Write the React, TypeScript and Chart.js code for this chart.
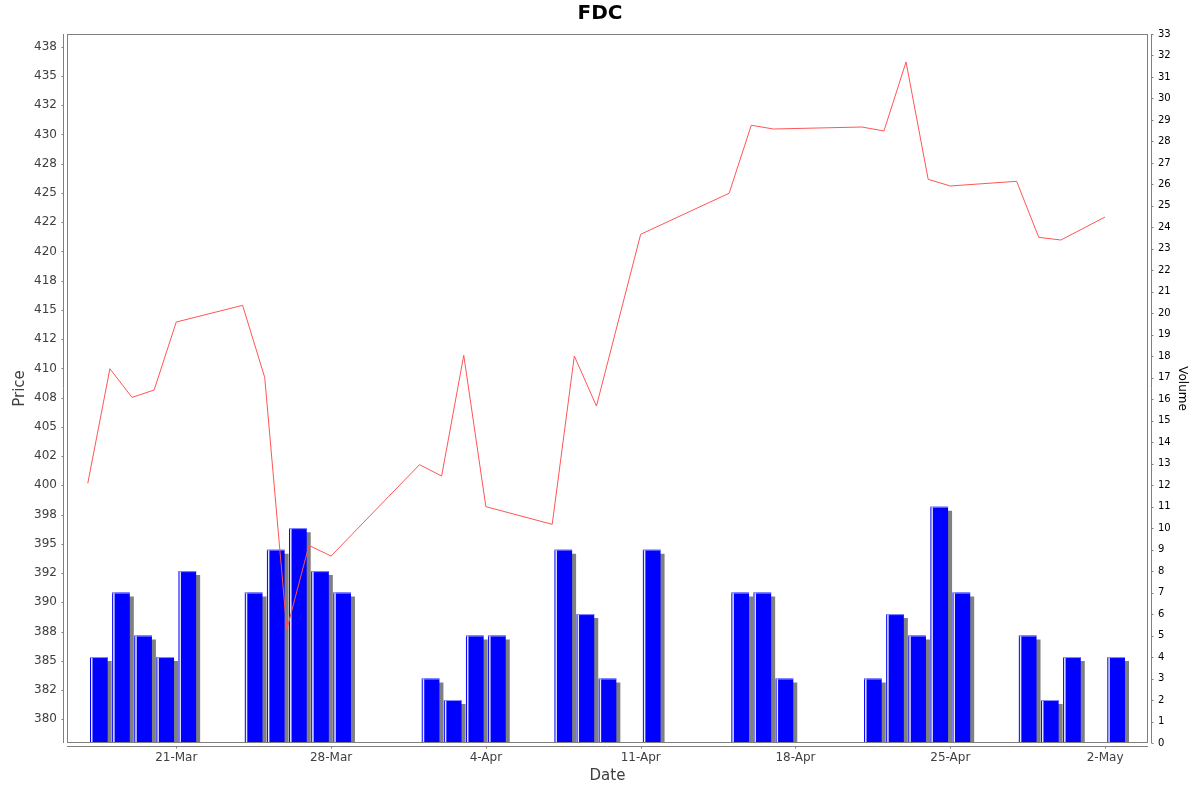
import React, { useEffect, useRef } from 'react';
import { Chart, registerables } from 'chart.js';

Chart.register(...registerables);

// ---- Data ----
const tradeDates = [
  '2014-03-17', '2014-03-18', '2014-03-19', '2014-03-20', '2014-03-21',
  '2014-03-24', '2014-03-25', '2014-03-26', '2014-03-27', '2014-03-28',
  '2014-04-01', '2014-04-02', '2014-04-03', '2014-04-04',
  '2014-04-07', '2014-04-08', '2014-04-09', '2014-04-11',
  '2014-04-15', '2014-04-16', '2014-04-17',
  '2014-04-21', '2014-04-22', '2014-04-23', '2014-04-24', '2014-04-25',
  '2014-04-28', '2014-04-29', '2014-04-30', '2014-05-02',
];

const closePrices = [
  400.17, 409.97, 407.52, 408.15, 413.96,
  415.39, 409.23, 387.69, 394.87, 393.96,
  401.77, 400.8, 411.12, 398.18,
  396.67, 411.06, 406.78, 421.46,
  424.97, 430.78, 430.46,
  430.63, 430.29, 436.19, 426.16, 425.59,
  425.99, 421.2, 420.97, 422.94,
];

const volumes = [
  4, 7, 5, 4, 8,
  7, 9, 10, 8, 7,
  3, 2, 5, 5,
  9, 6, 3, 9,
  7, 7, 3,
  3, 6, 5, 11, 7,
  5, 2, 4, 4,
];

const priceTicks = [
  380, 382.5, 385, 387.5, 390, 392.5, 395, 397.5, 400, 402.5, 405, 407.5,
  410, 412.5, 415, 417.5, 420, 422.5, 425, 427.5, 430, 432.5, 435, 437.5,
];
const priceTickLabels = [
  '380', '382', '385', '388', '390', '392', '395', '398', '400', '402', '405', '408',
  '410', '412', '415', '418', '420', '422', '425', '428', '430', '432', '435', '438',
];

const volumeTicks = [
  0, 1, 2, 3, 4, 5, 6, 7, 8, 9, 10, 11, 12, 13, 14, 15, 16,
  17, 18, 19, 20, 21, 22, 23, 24, 25, 26, 27, 28, 29, 30, 31, 32, 33,
];

const dateTicks = ['2014-03-21', '2014-03-28', '2014-04-04', '2014-04-11', '2014-04-18', '2014-04-25', '2014-05-02'];
const dateTickLabels = ['21-Mar', '28-Mar', '4-Apr', '11-Apr', '18-Apr', '25-Apr', '2-May'];

// ---- helpers ----
const DAY = 86400000;
const toUTC = (s: string) => {
  const [y, m, d] = s.split('-').map(Number);
  return Date.UTC(y, m - 1, d);
};
const origin = toUTC(tradeDates[0]);
const dayOf = (s: string) => (toUTC(s) - origin) / DAY;

const FONT = "'DejaVu Sans', sans-serif";
const AXIS_GRAY = '#808080';
const TEXT_GRAY = '#404040';

const decorPlugin = {
  id: 'decor',
  beforeDatasetDraw(chart: any, args: any) {
    if (args.meta.type !== 'bar') return;
    const ctx = chart.ctx;
    const dpr = chart.currentDevicePixelRatio || 1;
    ctx.save();
    ctx.shadowColor = '#808080';
    ctx.shadowBlur = 0;
    ctx.shadowOffsetX = 4 * dpr;
    ctx.shadowOffsetY = 4 * dpr;
  },
  afterDatasetDraw(chart: any, args: any) {
    if (args.meta.type !== 'bar') return;
    const ctx = chart.ctx;
    ctx.restore();
    ctx.save();
    for (const el of args.meta.data) {
      const p = el.getProps(['x', 'y', 'base', 'width'], true);
      const left = p.x - p.width / 2;
      const h = p.base - p.y;
      ctx.fillStyle = 'rgba(255,255,255,0.9)';
      ctx.fillRect(left + 1, p.y, 1.5, h);
      ctx.fillStyle = '#8c8cff';
      ctx.fillRect(left, p.y, p.width, 1);
    }
    ctx.restore();
  },
  afterDraw(chart: any) {
    const ctx = chart.ctx;
    const { left, right, top, bottom } = chart.chartArea;
    ctx.save();
    ctx.strokeStyle = AXIS_GRAY;
    ctx.lineWidth = 1;
    // plot outline
    ctx.strokeRect(left + 0.5, top + 0.5, right - left - 1, bottom - top - 1);
    ctx.beginPath();
    // left axis
    const lx = left - 3.5;
    ctx.moveTo(lx, top);
    ctx.lineTo(lx, bottom);
    const yp = chart.scales.yPrice;
    yp.ticks.forEach((_t: any, i: number) => {
      const y = Math.round(yp.getPixelForTick(i)) + 0.5;
      ctx.moveTo(lx, y);
      ctx.lineTo(lx - 2, y);
    });
    // right axis
    const rx = right + 3.5;
    ctx.moveTo(rx, top);
    ctx.lineTo(rx, bottom);
    const yv = chart.scales.yVol;
    yv.ticks.forEach((_t: any, i: number) => {
      const y = Math.round(yv.getPixelForTick(i)) + 0.5;
      ctx.moveTo(rx, y);
      ctx.lineTo(rx + 2, y);
    });
    // bottom axis
    const by = bottom + 3.5;
    ctx.moveTo(left, by);
    ctx.lineTo(right, by);
    const xs = chart.scales.x;
    xs.ticks.forEach((_t: any, i: number) => {
      const x = Math.round(xs.getPixelForTick(i)) + 0.5;
      ctx.moveTo(x, by);
      ctx.lineTo(x, by + 2);
    });
    ctx.stroke();
    ctx.restore();
  },
};

export default function App() {
  const canvasRef = useRef<HTMLCanvasElement | null>(null);

  useEffect(() => {
    if (!canvasRef.current) return;
    const dateTickDays = dateTicks.map(dayOf);
    const barData = tradeDates.map((d, i) => ({ x: dayOf(d) + 0.5, y: volumes[i] }));
    const lineData = tradeDates.map((d, i) => ({ x: dayOf(d), y: closePrices[i] }));

    const chart = new Chart(canvasRef.current, {
      type: 'bar',
      data: {
        datasets: [
          {
            type: 'line',
            label: 'Price',
            data: lineData,
            xAxisID: 'x',
            yAxisID: 'yPrice',
            borderColor: '#ff5555',
            borderWidth: 1,
            pointRadius: 0,
            fill: false,
            tension: 0,
            order: 0,
          } as any,
          {
            type: 'bar',
            label: 'Volume',
            data: barData,
            xAxisID: 'x',
            yAxisID: 'yVol',
            backgroundColor: '#0000ff',
            borderWidth: 0,
            categoryPercentage: 0.8,
            barPercentage: 1,
            order: 1,
          } as any,
        ],
      },
      options: {
        responsive: false,
        animation: false,
        events: [],
        layout: { padding: 0 },
        plugins: {
          legend: { display: false },
          tooltip: { enabled: false },
          title: {
            display: true,
            text: 'FDC',
            color: '#000000',
            font: { family: FONT, size: 20, weight: 'bold' },
            padding: { top: 2, bottom: 8 },
          },
        },
        scales: {
          x: {
            type: 'linear',
            position: 'bottom',
            min: -0.94,
            max: 47.94,
            offset: false,
            grid: { display: false, drawTicks: false },
            border: { display: false },
            afterBuildTicks: (s: any) => {
              s.ticks = dateTickDays.map((v) => ({ value: v }));
            },
            afterFit: (s: any) => {
              s.height = 49;
            },
            ticks: {
              autoSkip: false,
              maxRotation: 0,
              minRotation: 0,
              padding: 8,
              color: TEXT_GRAY,
              font: { family: FONT, size: 12 },
              callback: (_v: any, i: number) => dateTickLabels[i],
            },
            title: {
              display: true,
              text: 'Date',
              color: TEXT_GRAY,
              font: { family: FONT, size: 15 },
              padding: { top: 0, bottom: 7 },
            },
          },
          yPrice: {
            type: 'linear',
            position: 'left',
            min: 377.98,
            max: 438.58,
            grid: { display: false, drawTicks: false },
            border: { display: false },
            afterBuildTicks: (s: any) => {
              s.ticks = priceTicks.map((v) => ({ value: v }));
            },
            afterFit: (s: any) => {
              s.width = 67;
            },
            ticks: {
              autoSkip: false,
              padding: 10,
              color: TEXT_GRAY,
              font: { family: FONT, size: 12 },
              callback: (_v: any, i: number) => priceTickLabels[i],
            },
            title: {
              display: true,
              text: 'Price',
              color: TEXT_GRAY,
              font: { family: FONT, size: 15 },
              padding: { top: 11, bottom: 0 },
            },
          },
          yVol: {
            type: 'linear',
            position: 'right',
            min: 0,
            max: 33,
            grid: { display: false, drawTicks: false },
            border: { display: false },
            afterBuildTicks: (s: any) => {
              s.ticks = volumeTicks.map((v) => ({ value: v }));
            },
            afterFit: (s: any) => {
              s.width = 52;
            },
            ticks: {
              autoSkip: false,
              padding: 10,
              color: '#000000',
              font: { family: FONT, size: 10 },
              callback: (_v: any, i: number) => String(volumeTicks[i]),
            },
            title: {
              display: true,
              text: 'Volume',
              color: '#000000',
              font: { family: FONT, size: 12 },
              padding: { top: 11, bottom: 0 },
            },
          },
        },
      } as any,
      plugins: [decorPlugin as any],
    });

    return () => {
      chart.destroy();
    };
  }, []);

  return (
    <div style={{ position: 'absolute', left: 0, top: 0, width: 1200, height: 792, background: '#ffffff' }}>
      <canvas ref={canvasRef} width={1200} height={792} style={{ width: 1200, height: 792, display: 'block' }} />
    </div>
  );
}
